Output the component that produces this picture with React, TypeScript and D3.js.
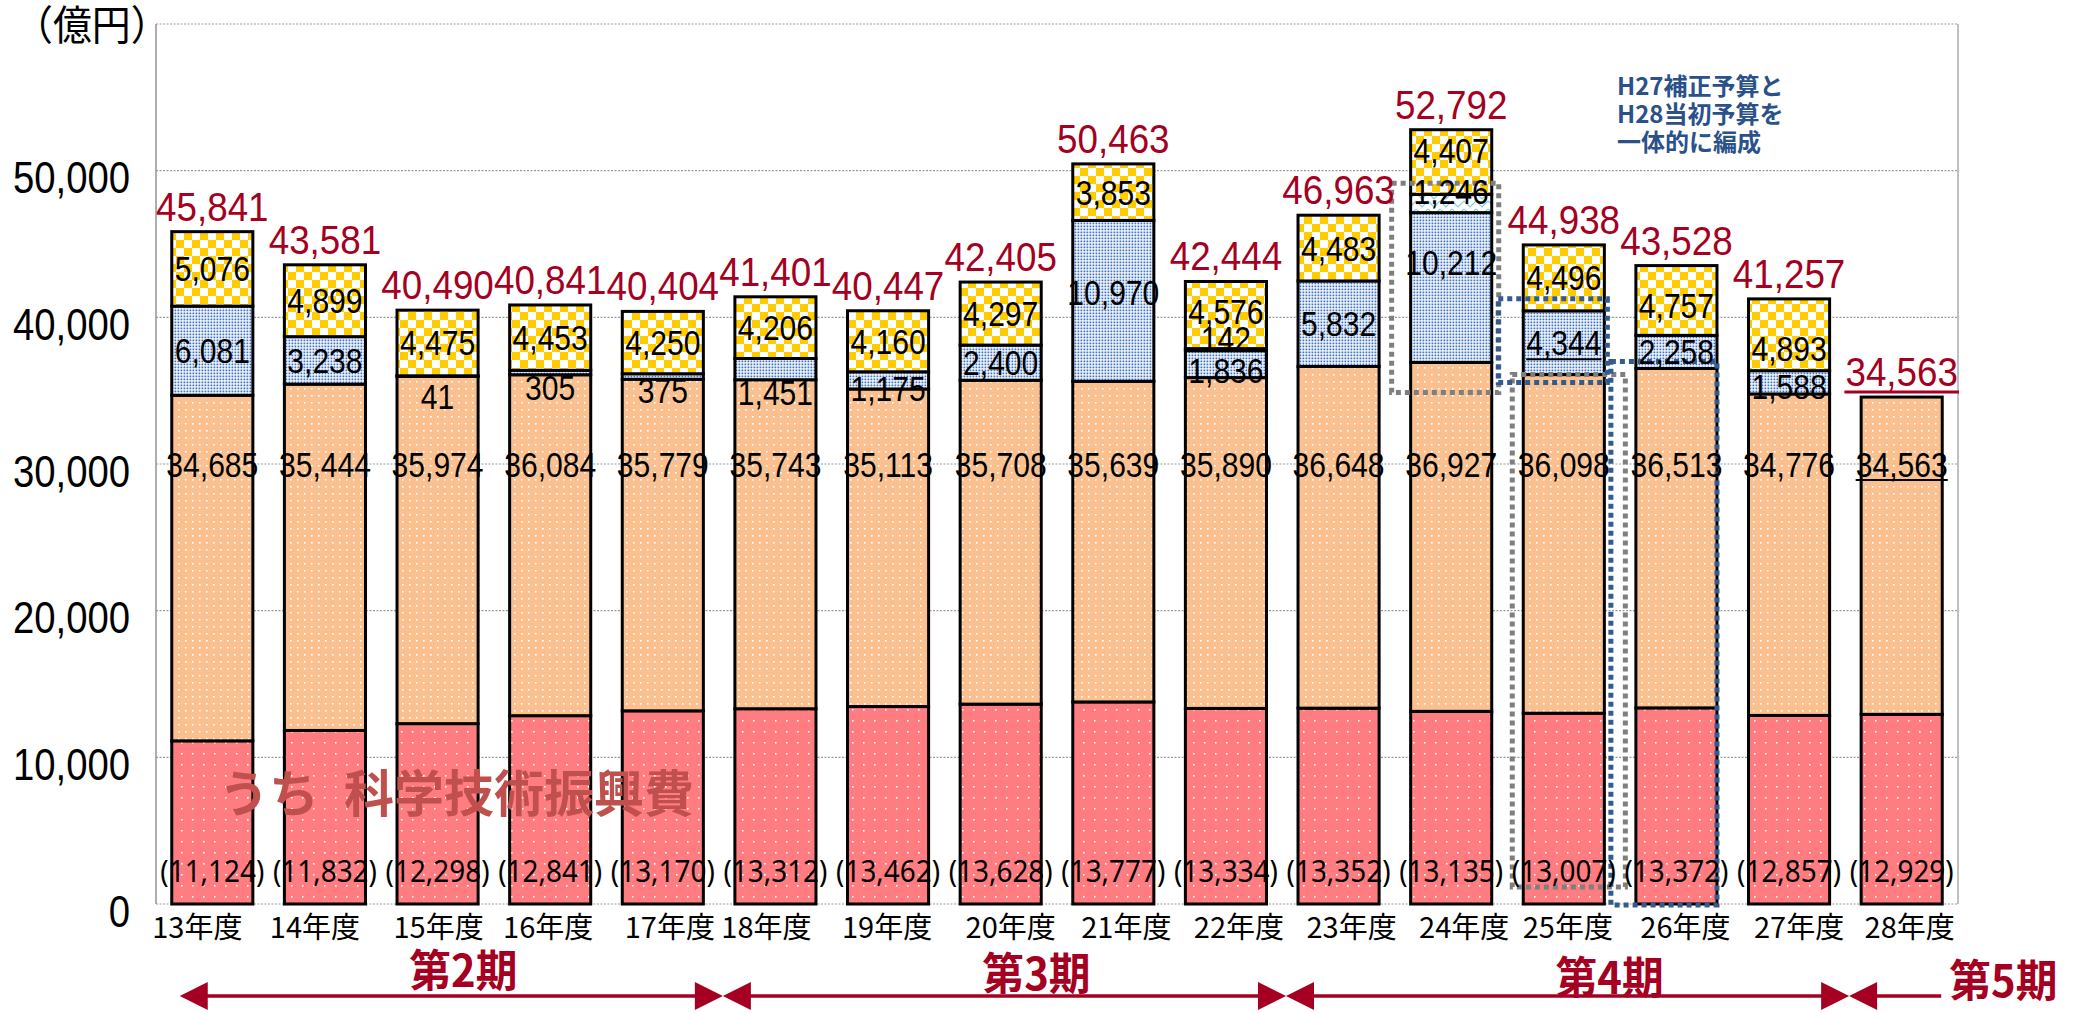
import * as d3 from "d3";

// 科学技術関係予算の推移（億円）
const years = ["13年度", "14年度", "15年度", "16年度", "17年度", "18年度", "19年度", "20年度", "21年度", "22年度", "23年度", "24年度", "25年度", "26年度", "27年度", "28年度"];
const scienceBudget = [11124, 11832, 12298, 12841, 13170, 13312, 13462, 13628, 13777, 13334, 13352, 13135, 13007, 13372, 12857, 12929];
const initialBudget = [34685, 35444, 35974, 36084, 35779, 35743, 35113, 35708, 35639, 35890, 36648, 36927, 36098, 36513, 34776, 34563];
const supplementaryBudget = [6081, 3238, 41, 305, 375, 1451, 1175, 2400, 10970, 1836, 5832, 10212, 4344, 2258, 1588, 0];
const reserveFund = [0, 0, 0, 0, 0, 0, 0, 0, 0, 142, 0, 1246, 0, 0, 0, 0];
const localBudget = [5076, 4899, 4475, 4453, 4250, 4206, 4160, 4297, 3853, 4576, 4483, 4407, 4496, 4757, 4893, 0];
const totalBudget = [45841, 43581, 40490, 40841, 40404, 41401, 40447, 42405, 50463, 42444, 46963, 52792, 44938, 43528, 41257, 34563];
const yTicks = [0, 10000, 20000, 30000, 40000, 50000];
const periodNames = ["第2期", "第3期", "第4期", "第5期"];
const periodFirstYear = ["13年度", "18年度", "23年度", "28年度"];
const noteLines = ["H27補正予算と", "H28当初予算を", "一体的に編成"];

const W = 2089;
const H = 1013;
const RED = "#A50021";
const NUM_FONT = "'Liberation Sans', Arial, sans-serif";
const JP_FONT = "'Noto Sans CJK JP', 'Noto Sans', sans-serif";

const keys = ["science", "initialRest", "supplementary", "reserve", "local"] as const;

// per-label pixel nudges (layout only)
const labelNudge: Record<string, number> = {
  "15年度|supplementary": 20,
  "16年度|supplementary": 15,
  "17年度|supplementary": 14,
  "18年度|supplementary": 23,
  "19年度|supplementary": 8,
  "21年度|supplementary": -8,
  "22年度|supplementary": 6,
  "22年度|reserve": -11,
  "22年度|local": -4,
  "24年度|supplementary": -25,
  "24年度|reserve": -12,
  "24年度|local": -12,
  "26年度|local": 5,
  "27年度|supplementary": 4,
  "27年度|local": 14,
};
const xLabelNudge = [-15, -10, 1, -2, 7, -9, -1, 10, 13, 13, 13, 13, 4, 9, 10, 8];
const periodLabelNudge = [12, 32, 42];
const periodLabelY = [970, 973, 977, 980];

const fmt = d3.format(",");

function Label({ x, y, text, size, family = NUM_FONT, fill = "#000", anchor = "middle", sx = 1, weight = "normal" }: any) {
  return (
    <text
      transform={`translate(${x},${y}) scale(${sx},1)`}
      fontSize={size}
      fontFamily={family}
      fill={fill}
      textAnchor={anchor}
      fontWeight={weight}
    >
      {text}
    </text>
  );
}

// rough width of Liberation Sans digits/commas
const numWidth = (s: string, size: number, sx: number) =>
  s.split("").reduce((w, c) => w + (c === "," ? 0.278 : 0.556), 0) * size * sx;

export default function App() {
  const x = d3.scaleBand<string>().domain(years).range([156, 1958]).paddingInner(0.28).paddingOuter(0.14);
  const y = d3.scaleLinear().domain([0, 60000]).range([904, 24]);
  const bw = x.bandwidth();

  const table = years.map((year, i) => ({
    year,
    science: scienceBudget[i],
    initialRest: initialBudget[i] - scienceBudget[i],
    supplementary: supplementaryBudget[i],
    reserve: reserveFund[i],
    local: localBudget[i],
  }));
  const series = d3.stack<any>().keys(keys as any)(table);

  const fills: Record<string, string> = {
    science: "url(#pScience)",
    initialRest: "url(#pInitial)",
    supplementary: "url(#pSupp)",
    reserve: "url(#pReserve)",
    local: "url(#pLocal)",
  };

  const cx = (yr: string) => (x(yr) as number) + bw / 2;
  const idx = (yr: string) => years.indexOf(yr);

  // dotted focus boxes around H27補正 / H28当初
  const i24 = idx("24年度");
  const i25 = idx("25年度");
  const i26 = idx("26年度");
  const boxes = [
    {
      color: "#7F7F7F",
      x0: (x("24年度") as number) - 19,
      x1: (x("24年度") as number) + bw + 7,
      y0: y(initialBudget[i24] + supplementaryBudget[i24] + reserveFund[i24]) - 11,
      y1: y(initialBudget[i24]) + 30,
    },
    {
      color: "#7F7F7F",
      x0: (x("25年度") as number) - 11,
      x1: (x("25年度") as number) + bw + 21,
      y0: y(initialBudget[i25]),
      y1: y(0) - 17,
    },
    {
      color: "#335B8E",
      x0: (x("25年度") as number) - 25,
      x1: (x("25年度") as number) + bw + 3,
      y0: y(initialBudget[i25] + supplementaryBudget[i25]) - 12,
      y1: y(initialBudget[i25]) + 8,
    },
    {
      color: "#335B8E",
      x0: (x("26年度") as number) - 25,
      x1: (x("26年度") as number) + bw,
      y0: y(initialBudget[i26]) - 7,
      y1: y(0) + 1,
    },
  ];

  // period arrows
  const arrowY = 996;
  const bounds = periodFirstYear.map((yr, k) => (k === 0 ? (x(yr) as number) + 8 : (x(yr) as number) - 12));
  const lastEnd = (x(years[years.length - 1]) as number) + bw - 1;
  const head = (tipX: number, dir: number) =>
    `M${tipX},${arrowY} L${tipX + dir * 28},${arrowY - 14} L${tipX + dir * 28},${arrowY + 14} Z`;

  return (
    <div>
      <style>{"body{margin:0;background:#fff}"}</style>
      <svg width={W} height={H} style={{ display: "block" }}>
        <defs>
          <pattern id="pScience" width="11" height="11" patternUnits="userSpaceOnUse">
            <rect width="11" height="11" fill="#FF7C80" />
            <rect x="5" y="5" width="1.6" height="1.6" fill="#fff" />
          </pattern>
          <pattern id="pInitial" width="7" height="7" patternUnits="userSpaceOnUse">
            <rect width="7" height="7" fill="#FAC090" />
            <rect x="3" y="3" width="1.6" height="1.6" fill="#fff" />
          </pattern>
          <pattern id="pSupp" width="3" height="3" patternUnits="userSpaceOnUse">
            <rect width="3" height="3" fill="#fff" />
            <rect x="0.5" y="0.5" width="1.8" height="1.8" fill="#3F72C4" />
          </pattern>
          <pattern id="pReserve" width="12" height="8" patternUnits="userSpaceOnUse">
            <rect width="12" height="8" fill="#fff" />
            <polyline points="0,1 6,7 12,1" fill="none" stroke="#86CCE0" strokeWidth="1.2" />
          </pattern>
          <pattern id="pLocal" width="16" height="16" patternUnits="userSpaceOnUse">
            <rect width="16" height="16" fill="#fff" />
            <rect width="8" height="8" fill="#FFCC00" />
            <rect x="8" y="8" width="8" height="8" fill="#FFCC00" />
          </pattern>
        </defs>

        {/* gridlines */}
        {[...yTicks, 60000].map((t) => (
          <line key={t} x1={156} x2={1958} y1={y(t)} y2={y(t)} stroke="#9a9a9a" strokeWidth={1.2} strokeDasharray="2 1.5" />
        ))}
        <line x1={156} x2={156} y1={y(60000)} y2={y(0)} stroke="#8c8c8c" strokeWidth={1.4} />
        <line x1={1958} x2={1958} y1={y(60000)} y2={y(0)} stroke="#a6a6a6" strokeWidth={1.4} />

        {/* y axis labels */}
        {yTicks.map((t) => (
          <Label key={t} x={130} y={y(t) + 22.8} text={fmt(t)} size={44} sx={0.87} anchor="end" />
        ))}
        <Label x={14} y={40} text="（億円）" size={41} family={JP_FONT} anchor="start" sx={0.95} />

        {/* stacked bars */}
        {series.map((s) => (
          <g key={s.key}>
            {s.map((d: any, i: number) =>
              d[1] - d[0] > 0 ? (
                <rect
                  key={i}
                  x={x(years[i])}
                  y={y(d[1])}
                  width={bw}
                  height={y(d[0]) - y(d[1])}
                  fill={fills[s.key]}
                  stroke="#000"
                  strokeWidth={3}
                />
              ) : null
            )}
          </g>
        ))}

        {/* dotted focus boxes */}
        {boxes.map((b, k) => (
          <rect
            key={k}
            x={b.x0}
            y={b.y0}
            width={b.x1 - b.x0}
            height={b.y1 - b.y0}
            fill="none"
            stroke={b.color}
            strokeWidth={5}
            strokeDasharray="5 4"
          />
        ))}

        {/* うち 科学技術振興費 */}
        <Label x={219} y={812} text={"うち\u2002科学技術振興費"} size={50} family={JP_FONT} anchor="start" fill="#C0504D" weight="bold" sx={1} />

        {/* segment labels: supplementary, reserve, local */}
        {series
          .filter((s) => s.key === "supplementary" || s.key === "reserve" || s.key === "local")
          .map((s) =>
            s.map((d: any, i: number) => {
              const v = d[1] - d[0];
              if (v <= 0) return null;
              const yr = years[i];
              const mid = (y(d[0]) + y(d[1])) / 2 + (labelNudge[`${yr}|${s.key}`] || 0);
              const txt = fmt(v);
              const under = yr === "25年度" && s.key === "supplementary";
              const hw = numWidth(txt, 35, 0.86) / 2;
              return (
                <g key={`${s.key}-${i}`}>
                  <Label x={cx(yr)} y={mid + 12.5} text={txt} size={35} sx={0.86} />
                  {under ? <line x1={cx(yr) - hw} x2={cx(yr) + hw} y1={mid + 16.5} y2={mid + 16.5} stroke="#000" strokeWidth={2} /> : null}
                </g>
              );
            })
          )}

        {/* 当初予算 labels */}
        {years.map((yr, i) => {
          const txt = fmt(initialBudget[i]);
          const base = y(30000) + 12.5;
          const hw = numWidth(txt, 35, 0.86) / 2;
          return (
            <g key={`init-${yr}`}>
              <Label x={cx(yr)} y={base} text={txt} size={35} sx={0.86} />
              {yr === "28年度" ? <line x1={cx(yr) - hw} x2={cx(yr) + hw} y1={base + 3.5} y2={base + 3.5} stroke="#000" strokeWidth={2} /> : null}
            </g>
          );
        })}

        {/* 科学技術振興費 labels */}
        {years.map((yr, i) => (
          <Label
            key={`sci-${yr}`}
            x={cx(yr)}
            y={y(0) - 22}
            text={`(${fmt(scienceBudget[i])})`}
            size={31}
            sx={0.9}
            family="'Noto Sans', 'Open Sans', sans-serif"
          />
        ))}

        {/* totals */}
        {years.map((yr, i) => {
          const txt = fmt(totalBudget[i]);
          const base = y(totalBudget[i]) - 11;
          const hw = numWidth(txt, 40, 0.92) / 2;
          return (
            <g key={`tot-${yr}`}>
              <Label x={cx(yr)} y={base} text={txt} size={40} sx={0.92} fill={RED} />
              {yr === "28年度" ? <line x1={cx(yr) - hw - 1} x2={cx(yr) + hw + 1} y1={base + 6} y2={base + 6} stroke={RED} strokeWidth={3} /> : null}
            </g>
          );
        })}

        {/* x axis labels */}
        {years.map((yr, i) => (
          <Label key={`xl-${yr}`} x={cx(yr) + xLabelNudge[i]} y={937.5} text={yr} size={29} family={JP_FONT} />
        ))}

        {/* note */}
        {noteLines.map((t, k) => (
          <Label key={t} x={1617} y={95 + k * 28} text={t} size={24} family={JP_FONT} anchor="start" fill="#2A5189" weight="bold" />
        ))}

        {/* period arrows */}
        {periodNames.map((name, k) => {
          const isLast = k === periodNames.length - 1;
          const x0 = bounds[k];
          const x1 = isLast ? lastEnd : bounds[k + 1];
          return (
            <g key={name}>
              <line x1={x0 + 20} x2={isLast ? x1 : x1 - 20} y1={arrowY} y2={arrowY} stroke={RED} strokeWidth={3.5} />
              <path d={head(x0, 1)} fill={RED} />
              {!isLast ? <path d={head(x1, -1)} fill={RED} /> : null}
              <Label
                x={isLast ? x1 + 8 : (x0 + x1) / 2 + periodLabelNudge[k]}
                y={periodLabelY[k] + 16.5}
                text={name}
                size={44}
                family={JP_FONT}
                fill={RED}
                weight="bold"
                sx={0.95}
                anchor={isLast ? "start" : "middle"}
              />
            </g>
          );
        })}
      </svg>
    </div>
  );
}
